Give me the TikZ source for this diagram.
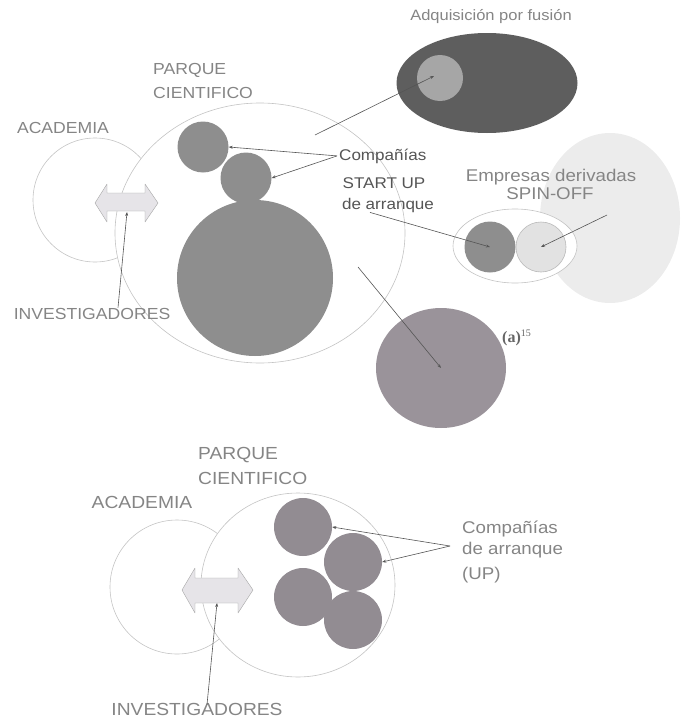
\documentclass[tikz,border=0pt]{standalone}
\usepackage{fontspec}
\setmainfont{Liberation Sans}
\newfontfamily\widefont[FakeStretch=1.1]{Liberation Sans}
\newfontfamily\serifbold{Liberation Serif}
\usetikzlibrary{arrows.meta,shapes.geometric}
\definecolor{rim}{HTML}{C4C4C4}
\definecolor{lbl}{HTML}{858585}
\definecolor{lbldark}{HTML}{555555}
\definecolor{disc}{HTML}{8E8E8E}
\definecolor{discp}{HTML}{928C92}
\definecolor{biga}{HTML}{9A939A}
\definecolor{ellipsedark}{HTML}{5E5E5E}
\definecolor{innerlight}{HTML}{A6A6A6}
\definecolor{spinbg}{HTML}{ECECEC}
\definecolor{spinlight}{HTML}{E2E2E2}
\definecolor{arrowfill}{HTML}{E6E4E8}
\definecolor{linec}{HTML}{555555}
\tikzset{
  rimline/.style={draw=rim, line width=0.6pt},
  discnode/.style={circle, fill=disc, draw=none, inner sep=0pt, minimum size=#1},
  lab/.style={inner sep=2pt, text=lbl, font=\widefont\fontsize{16}{18}\selectfont},
  labb/.style={inner sep=2pt, text=lbl, font=\widefont\fontsize{17.5}{20}\selectfont},
  labd/.style={inner sep=2pt, text=lbldark, font=\widefont\fontsize{15.5}{18}\selectfont},
  conn/.style={draw=linec, line width=0.6pt, -{Stealth[length=4pt,width=3pt]}},
  dblarrow/.style={fill=arrowfill, draw=gray!70, line width=0.4pt, line join=round}
}
\begin{document}
\begin{tikzpicture}[x=1pt,y=-1pt]
\useasboundingbox (0,0) rectangle (681,720);
% ================= TOP =================
% academia and park
\node[circle, rimline, minimum size=124pt, inner sep=0pt] (acad1) at (95,200) {};
\node[ellipse, rimline, fill=white, minimum width=290pt, minimum height=260pt, inner sep=0pt] (park1) at (260,233) {};
% discs in park
\node[discnode=156pt] (big1) at (255,278) {};
\node[discnode=51pt] (ca) at (203,147) {};
\node[discnode=51pt] (cb) at (246,178) {};
% double arrow
\path[dblarrow] (95,203) -- (107,184) -- (107,193) -- (145,193) -- (145,184) -- (158,203) -- (145,222) -- (145,211) -- (107,211) -- (107,222) -- cycle;
\coordinate (dbl1) at (127,212);
% labels
\node[lab, anchor=base] (acadlab1) at (63,133) {ACADEMIA};
\node[lab, anchor=base west] (parklab1) at (151,74) {PARQUE};
\node[lab, anchor=base west] (cientlab1) at (151,98) {CIENTIFICO};
\node[lab, anchor=base] (invlab1) at (92,319) {INVESTIGADORES};
\draw[conn] ([xshift=26pt,yshift=-2pt]invlab1.north) -- (dbl1);
% Compañías / start up
\node[labd, anchor=base west] (comp1) at (337,160) {Compañías};
\node[labd, anchor=base] (start1) at (384,188) {START UP};
\node[labd, anchor=base] (arr1) at (388,209) {de arranque};
\draw[conn] (comp1.west) -- (ca.east);
\draw[conn] (comp1.west) -- (cb.east);
% adquisicion
\node[ellipse, fill=ellipsedark, minimum width=181pt, minimum height=100pt, inner sep=0pt] (fus) at (487,83) {};
\node[circle, fill=innerlight, minimum size=46pt, inner sep=0pt] (fusin) at (440,78) {};
\node[inner sep=2pt, text=lbl, font=\widefont\fontsize{15}{17}\selectfont, anchor=base] (adqlab) at (491,20) {Adquisición por fusión};
\coordinate (fusstart) at (315,135);
\draw[conn] (fusstart) -- ([xshift=-6pt,yshift=2pt]fusin.center);
% spin-off
\node[ellipse, fill=spinbg, minimum width=140pt, minimum height=170pt, inner sep=0pt] (spinbig) at (610,218) {};
\node[ellipse, rimline, fill=white, minimum width=124pt, minimum height=74pt, inner sep=0pt] (pair) at (515,246) {};
\node[discnode=51pt, fill=disc] (sdark) at (490,247) {};
\node[circle, fill=spinlight, draw=gray!55, line width=0.6pt, minimum size=50pt, inner sep=0pt] (slight) at (541,247) {};
\node[inner sep=2pt, text=lbl, font=\widefont\fontsize{17}{19}\selectfont, anchor=base] (emp) at (551,181) {Empresas derivadas};
\node[inner sep=2pt, text=lbl, font=\widefont\fontsize{17}{19}\selectfont, anchor=base] (spin) at (550,199) {SPIN-OFF};
\coordinate (spinstart) at (607,215);
\draw[conn] (spinstart) -- (slight.center);
\draw[conn] ([xshift=-18pt,yshift=2pt]arr1.south) -- (sdark.center);
% lower circle (a)
\node[ellipse, fill=biga, minimum width=130pt, minimum height=120pt, inner sep=0pt] (acirc) at (441,368) {};
\coordinate (astart) at (358,267);
\draw[conn] (astart) -- (acirc.center);
\node[anchor=base west, inner sep=0pt, text=gray!80!black, font=\serifbold\bfseries\fontsize{16}{18}\selectfont] (alab) at (502,342) {(a)\raisebox{6pt}{\fontsize{10}{12}\selectfont\mdseries 15}};
% ================= BOTTOM =================
\node[circle, rimline, minimum size=134pt, inner sep=0pt] (acad2) at (177,587) {};
\node[ellipse, rimline, fill=white, minimum width=194pt, minimum height=184pt, inner sep=0pt] (park2) at (298,585) {};
\node[discnode=58pt, fill=discp] (c1) at (303,527) {};
\node[discnode=58pt, fill=discp] (c2) at (353,562) {};
\node[discnode=58pt, fill=discp] (c3) at (303,597) {};
\node[discnode=58pt, fill=discp] (c4) at (353,620) {};
\path[dblarrow] (182,590) -- (195,568) -- (195,578) -- (238,578) -- (238,568) -- (253,590) -- (238,613) -- (238,603) -- (195,603) -- (195,613) -- cycle;
\coordinate (dbl2) at (217,603);
\node[labb, anchor=base] (acadlab2) at (142,508) {ACADEMIA};
\node[labb, anchor=base west] (parklab2) at (196,459) {PARQUE};
\node[labb, anchor=base west] (cientlab2) at (196,484) {CIENTIFICO};
\node[labb, anchor=base] (invlab2) at (197,715) {INVESTIGADORES};
\draw[conn] ([xshift=10pt,yshift=-4pt]invlab2.north) -- (dbl2);
\node[inner sep=2pt, text=lbl, font=\widefont\fontsize{17}{19}\selectfont, anchor=base west] (comp2a) at (460,533) {Compañías};
\node[inner sep=2pt, text=lbl, font=\widefont\fontsize{17}{19}\selectfont, anchor=base west] (comp2b) at (460,554) {de arranque};
\node[inner sep=2pt, text=lbl, font=\widefont\fontsize{17}{19}\selectfont, anchor=base west] (comp2c) at (460,579) {(UP)};
\coordinate (compstart2) at (450,546);
\draw[conn] (compstart2) -- (c1.east);
\draw[conn] (compstart2) -- (c2.east);
\end{tikzpicture}
\end{document}
